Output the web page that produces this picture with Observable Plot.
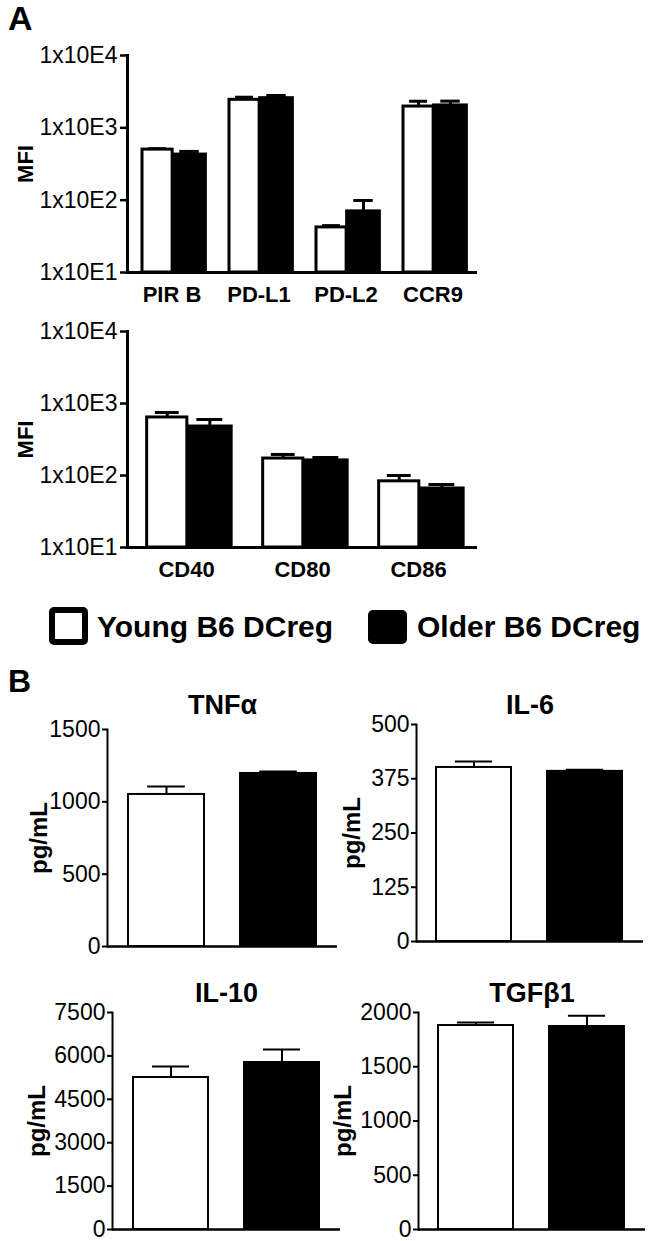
<!DOCTYPE html>
<html>
<head>
<meta charset="utf-8">
<script src="https://cdn.jsdelivr.net/npm/d3@7"></script>
<script src="https://cdn.jsdelivr.net/npm/@observablehq/plot@0.6"></script>
<style>
  body { margin: 0; background: #fff; }
  #root { position: relative; width: 653px; height: 1241px; overflow: hidden;
          font-family: "Liberation Sans", Arial, Helvetica, sans-serif; color: #000; }
  .letter { position: absolute; font-weight: bold; line-height: 1; }
  .lgbox { position: absolute; box-sizing: border-box; }
  .lgtext { position: absolute; font-weight: bold; font-size: 30px; line-height: 1; white-space: nowrap; }
</style>
</head>
<body>
<div id="root"></div>
<script>
// ---------------- data ----------------
const groups = ["Young B6 DCreg", "Older B6 DCreg"];

// Panel A (top): surface markers, MFI (log scale)
const markersA1 = ["PIR B", "PD-L1", "PD-L2", "CCR9"];
const youngA1 = [500, 2440, 42, 1970];
const youngA1Sem = [15, 210, 2.5, 360];
const olderA1 = [427, 2570, 70, 2040];
const olderA1Sem = [45, 230, 29, 300];

// Panel A (bottom)
const markersA2 = ["CD40", "CD80", "CD86"];
const youngA2 = [640, 172, 83];
const youngA2Sem = [110, 24, 17];
const olderA2 = [479, 162, 66];
const olderA2Sem = [120, 16, 9];

const logTicks = [10, 100, 1000, 10000];

// Panel B: cytokines, pg/mL
const cytokines = ["TNFα", "IL-6", "IL-10", "TGFβ1"];
const youngCyto = [1051, 401, 5253, 1880];
const youngCytoSem = [55, 14, 380, 28];
const olderCyto = [1196, 392, 5772, 1871];
const olderCytoSem = [14, 4, 450, 100];
const cytoTicks = [
  [0, 500, 1000, 1500],
  [0, 125, 250, 375, 500],
  [0, 1500, 3000, 4500, 6000, 7500],
  [0, 500, 1000, 1500, 2000]
];

// ---------------- drawing ----------------
const FONT = '"Liberation Sans", Arial, Helvetica, sans-serif';
const root = document.getElementById("root");
const colorScale = {domain: groups, range: ["#ffffff", "#000000"]};

function place(el, left, top) {
  el.style.position = "absolute";
  el.style.left = left + "px";
  el.style.top = top + "px";
  root.appendChild(el);
}

function mfiPanel(markers, young, youngSem, older, olderSem, box) {
  const width = 653, ml = 127, mr = 176;
  const bw = (width - ml - mr) / markers.length;
  const rows = [young, older].map((vals, k) =>
    markers.map((m, i) => ({marker: m, group: groups[k], value: vals[i],
                            sem: (k ? olderSem : youngSem)[i]})));
  const slots = [[0.16, 0.51], [0.51, 0.89]];
  const marks = [];
  rows.forEach((data, k) => {
    const [a, b] = slots[k];
    const mid = (a + b) / 2;
    const cap = 0.3 * (b - a) * bw;
    marks.push(Plot.ruleX(data, {x: "marker", y1: "value", y2: d => d.value + d.sem,
      dx: (mid - 0.5) * bw, stroke: "#000", strokeWidth: 3}));
    marks.push(Plot.tickY(data, {x: "marker", y: d => d.value + d.sem,
      insetLeft: mid * bw - cap, insetRight: (1 - mid) * bw - cap, stroke: "#000", strokeWidth: 3}));
    marks.push(Plot.barY(data, {x: "marker", y1: () => 10, y2: "value",
      insetLeft: a * bw, insetRight: (1 - b) * bw, fill: "group", stroke: "#000", strokeWidth: 3}));
  });
  marks.push(
    Plot.frame({anchor: "left", stroke: "#000", strokeWidth: 3}),
    Plot.ruleY([10], {stroke: "#000", strokeWidth: 3}),
    Plot.axisY({ticks: logTicks, tickFormat: d => "1x10E" + Math.round(Math.log10(d)),
      tickSize: 7, tickPadding: 3, strokeWidth: 2.5, fontSize: 23, label: null}),
    Plot.axisX({tickSize: 0, tickPadding: 14, fontSize: 22, fontWeight: "bold", label: null}),
    Plot.text(["MFI"], {text: d => d, frameAnchor: "left", rotate: -90, dx: -102,
      textAnchor: "middle", lineAnchor: "middle", fontSize: 22, fontWeight: "bold"})
  );
  const svg = Plot.plot({
    width, height: box.height,
    marginLeft: ml, marginRight: mr, marginTop: box.mt, marginBottom: box.mb,
    x: {domain: markers, padding: 0},
    y: {type: "log", domain: [10, 10000]},
    color: colorScale,
    style: {fontFamily: FONT, color: "#000", background: "transparent", overflow: "visible"},
    marks
  });
  place(svg, 0, box.top);
}

function cytoPanel(i, box) {
  const rows = groups.map((g, k) => ({group: g,
    value: (k ? olderCyto : youngCyto)[i], sem: (k ? olderCytoSem : youngCytoSem)[i]}));
  const ticks = cytoTicks[i];
  const W = box.width - box.ml - box.mr;
  const pi = 0.32, po = 0.18;
  const step = W / (groups.length - pi + 2 * po);
  const bw = step * (1 - pi);
  const svg = Plot.plot({
    width: box.width, height: box.height,
    marginLeft: box.ml, marginRight: box.mr, marginTop: box.mt, marginBottom: box.mb,
    x: {domain: groups, paddingInner: pi, paddingOuter: po, axis: null},
    y: {domain: [0, ticks[ticks.length - 1]]},
    color: colorScale,
    style: {fontFamily: FONT, color: "#000", background: "transparent", overflow: "visible"},
    marks: [
      Plot.ruleX(rows, {x: "group", y1: "value", y2: d => d.value + d.sem, stroke: "#000", strokeWidth: 2}),
      Plot.tickY(rows, {x: "group", y: d => d.value + d.sem, insetLeft: bw * 0.25, insetRight: bw * 0.25,
        stroke: "#000", strokeWidth: 2}),
      Plot.barY(rows, {x: "group", y: "value", fill: "group", stroke: "#000", strokeWidth: 2}),
      Plot.frame({anchor: "left", stroke: "#000", strokeWidth: 2}),
      Plot.ruleY([0], {stroke: "#000", strokeWidth: 2.5}),
      Plot.axisY({ticks, tickFormat: d => String(d), tickSize: 5, tickPadding: 2, strokeWidth: 2,
        fontSize: 23, label: null}),
      Plot.text([cytokines[i]], {text: d => d, frameAnchor: "top", dy: box.titleDy,
        textAnchor: "middle", lineAnchor: "middle", fontSize: 27, fontWeight: "bold"}),
      Plot.text(["pg/mL"], {text: d => d, frameAnchor: "left", rotate: -90, dx: box.labelDx,
        textAnchor: "middle", lineAnchor: "middle", fontSize: 24, fontWeight: "bold"})
    ]
  });
  place(svg, box.left, box.top);
}

mfiPanel(markersA1, youngA1, youngA1Sem, olderA1, olderA1Sem, {top: 20, height: 290, mt: 35, mb: 38});
mfiPanel(markersA2, youngA2, youngA2Sem, olderA2, olderA2Sem, {top: 300, height: 290, mt: 31, mb: 43});

cytoPanel(0, {left: 0, top: 680, width: 340, height: 276, ml: 107, mr: 3, mt: 49, mb: 10, titleDy: -24, labelDx: -68});
cytoPanel(1, {left: 320, top: 680, width: 333, height: 271, ml: 96, mr: 10, mt: 44, mb: 10, titleDy: -19, labelDx: -64});
cytoPanel(2, {left: 0, top: 960, width: 340, height: 279, ml: 112, mr: 0, mt: 52, mb: 10, titleDy: -19, labelDx: -75});
cytoPanel(3, {left: 320, top: 960, width: 333, height: 279, ml: 98, mr: 8, mt: 52, mb: 10, titleDy: -19, labelDx: -75});

// panel letters
function letter(t, left, top, size) {
  const d = document.createElement("div");
  d.className = "letter";
  d.textContent = t;
  d.style.fontSize = size + "px";
  place(d, left, top);
}
letter("A", 8, 1, 34);
letter("B", 8, 665, 32);

// legend
function legendItem(g, boxLeft, boxTop, bwid, bht, textLeft, filled) {
  const b = document.createElement("div");
  b.className = "lgbox";
  b.style.width = bwid + "px";
  b.style.height = bht + "px";
  b.style.borderRadius = "5px";
  if (filled) { b.style.background = "#000"; }
  else { b.style.border = "6px solid #000"; b.style.background = "#fff"; }
  place(b, boxLeft, boxTop);
  const t = document.createElement("div");
  t.className = "lgtext";
  t.textContent = g;
  place(t, textLeft, 612);
}
legendItem(groups[0], 49, 607, 39, 38, 97, false);
legendItem(groups[1], 368, 610, 39, 34, 417, true);
</script>
</body>
</html>
